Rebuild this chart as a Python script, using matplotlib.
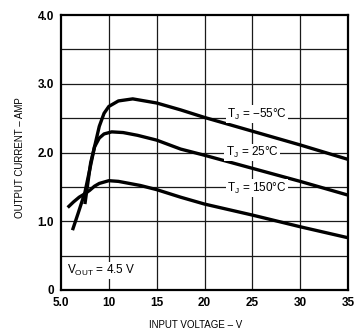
import matplotlib
matplotlib.use("Agg")
import matplotlib.pyplot as plt

plt.rcParams["font.family"] = ["Liberation Sans", "DejaVu Sans"]
plt.rcParams["mathtext.fontset"] = "custom"
plt.rcParams["mathtext.rm"] = "Liberation Sans"

# T_J = -55 C
v_m55 = [6.2, 6.8, 7.5, 8.0, 8.5, 9.0, 9.5, 10.0, 11.0, 12.5, 15.0, 17.5, 20.0, 25.0, 30.0, 35.0]
i_m55 = [0.87, 1.12, 1.42, 1.75, 2.08, 2.38, 2.57, 2.67, 2.75, 2.78, 2.72, 2.62, 2.51, 2.31, 2.11, 1.90]

# T_J = 25 C
v_25 = [7.5, 7.8, 8.1, 8.5, 9.0, 9.5, 10.3, 11.5, 13.0, 15.0, 17.5, 20.0, 25.0, 30.0, 35.0]
i_25 = [1.25, 1.55, 1.85, 2.08, 2.21, 2.27, 2.30, 2.29, 2.25, 2.18, 2.05, 1.96, 1.77, 1.58, 1.38]

# T_J = 150 C
v_150 = [5.7, 6.3, 6.9, 7.5, 8.0, 8.5, 9.0, 10.0, 11.0, 13.3, 15.0, 17.5, 20.0, 25.0, 30.0, 35.0]
i_150 = [1.20, 1.28, 1.35, 1.40, 1.45, 1.51, 1.55, 1.59, 1.58, 1.52, 1.46, 1.35, 1.25, 1.09, 0.92, 0.76]

x_ticks = [5, 10, 15, 20, 25, 30, 35]
x_labels = ["5.0", "10", "15", "20", "25", "30", "35"]
y_ticks = [0, 1, 2, 3, 4]
y_labels = ["0", "1.0", "2.0", "3.0", "4.0"]

fig = plt.figure(figsize=(3.54, 3.36), dpi=100)
ax = fig.add_axes([61 / 354, 1 - 290 / 336, (348 - 61) / 354, (290 - 15) / 336])

ax.set_xlim(5, 35)
ax.set_ylim(0, 4)

# grid
for x in range(10, 35, 5):
    ax.axvline(x, color="#1a1a1a", lw=0.9, zorder=1)
for k in range(1, 8):
    ax.axhline(k * 0.5, color="#1a1a1a", lw=0.9, zorder=1)

for v, i in [(v_m55, i_m55), (v_25, i_25), (v_150, i_150)]:
    ax.plot(v, i, color="black", lw=2.4, solid_capstyle="butt", zorder=3)

lab_kw = dict(ha="center", va="center", fontsize=8.5, zorder=4,
              bbox=dict(facecolor="white", edgecolor="none", pad=1.0))
ax.text(25.5, 2.56, "T$_\\mathregular{J}$ = \u221255\u00b0C", **lab_kw)
ax.text(25.0, 2.0, "T$_\\mathregular{J}$ = 25\u00b0C", **lab_kw)
ax.text(25.5, 1.48, "T$_\\mathregular{J}$ = 150\u00b0C", **lab_kw)
ax.text(5.6, 0.28, "V$_\\mathregular{OUT}$ = 4.5 V", ha="left", va="center",
        fontsize=8.5, zorder=4,
        bbox=dict(facecolor="white", edgecolor="none", pad=0.5))

ax.set_xticks(x_ticks)
ax.set_xticklabels(x_labels)
ax.set_yticks(y_ticks)
ax.set_yticklabels(y_labels)
ax.tick_params(length=0, labelsize=8.5, pad=5)
for lab in ax.get_xticklabels() + ax.get_yticklabels():
    lab.set_fontweight("bold")

for s in ax.spines.values():
    s.set_linewidth(1.6)
    s.set_color("black")

fig.text(196 / 354, 1 - 325 / 336, "INPUT VOLTAGE \u2013 V", ha="center",
         va="center", fontsize=7)
fig.text(20 / 354, 1 - 158 / 336, "OUTPUT CURRENT \u2013 AMP", ha="center",
         va="center", rotation=90, fontsize=7)

fig.savefig("out.png", dpi=100)
